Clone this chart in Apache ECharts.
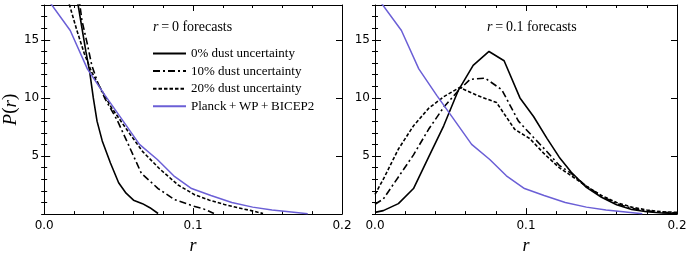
<!DOCTYPE html>
<html>
<head>
<meta charset="utf-8">
<script src="https://cdn.jsdelivr.net/npm/echarts@6/dist/echarts.min.js"></script>
<style>html,body{margin:0;padding:0;background:#fff}#c{width:692px;height:260px}</style>
</head>
<body>
<div id="c"></div>
<script>
// ---- data (r, P(r)) ----
var seriesNames = ['0% dust uncertainty', '10% dust uncertainty', '20% dust uncertainty', 'Planck\u2009+\u2009WP\u2009+\u2009BICEP2'];
var xTicks = [0, 0.1, 0.2];
var yTicks = [5, 10, 15];

var planck = [[0.004,18.2],[0.0175,15.8],[0.029,12.5],[0.041,10.2],[0.052,8.2],[0.064,6.0],[0.076,4.7],[0.087,3.3],[0.099,2.2],[0.112,1.6],[0.126,1.0],[0.14,0.6],[0.153,0.35],[0.166,0.18],[0.177,0.03]];

var left0 = [[0.0215,19],[0.025,16.3],[0.028,14.0],[0.0305,12.3],[0.033,10.0],[0.0355,8.0],[0.039,6.3],[0.0445,4.4],[0.05,2.7],[0.055,1.8],[0.06,1.2],[0.066,0.9],[0.071,0.55],[0.0765,0.05]];
var left10 = [[0.023,19],[0.0253,16.7],[0.0287,14.8],[0.032,12.8],[0.036,11.3],[0.041,9.9],[0.049,8.1],[0.0565,6.0],[0.0653,3.5],[0.0765,2.2],[0.0875,1.25],[0.1,0.7],[0.107,0.45],[0.114,0.05]];
var left20 = [[0.0155,19],[0.017,18],[0.022,15.8],[0.027,13.8],[0.032,12.2],[0.038,10.8],[0.045,9.2],[0.057,7.0],[0.066,5.4],[0.0775,3.9],[0.09,2.5],[0.101,1.67],[0.111,1.2],[0.121,0.83],[0.13,0.55],[0.139,0.3],[0.147,0.05]];

var right0 = [[0,0.15],[0.0055,0.3],[0.0155,0.9],[0.0255,2.2],[0.0355,4.9],[0.0455,7.6],[0.055,10.6],[0.065,12.8],[0.0755,14.0],[0.0855,13.2],[0.096,10.0],[0.105,8.4],[0.114,6.5],[0.122,4.9],[0.13,3.6],[0.14,2.3],[0.15,1.45],[0.16,0.8],[0.17,0.4],[0.18,0.2],[0.19,0.1],[0.2,0.05]];
var right10 = [[0,0.85],[0.0055,1.3],[0.0155,3.2],[0.0255,5.1],[0.0355,7.3],[0.0455,9.2],[0.055,10.6],[0.063,11.6],[0.073,11.7],[0.084,10.7],[0.095,8.0],[0.105,6.6],[0.113,5.5],[0.122,4.2],[0.13,3.5],[0.14,2.4],[0.15,1.55],[0.16,0.9],[0.17,0.5],[0.18,0.28],[0.19,0.15],[0.2,0.1]];
var right20 = [[0,1.7],[0.0055,3.0],[0.0155,5.6],[0.0255,7.6],[0.0355,9.1],[0.0455,10.1],[0.056,10.9],[0.068,10.2],[0.0805,9.6],[0.0925,7.3],[0.1025,6.5],[0.112,5.2],[0.122,4.0],[0.13,3.3],[0.14,2.4],[0.15,1.6],[0.16,1.0],[0.17,0.6],[0.18,0.35],[0.19,0.2],[0.2,0.15]];

// ---- styling ----
var BLUE = '#6b5fd6';
var SERIF = '"Liberation Serif","DejaVu Serif",serif';
var SANS = '"DejaVu Sans",sans-serif';
var styles = [
  {color:'#000', width:1.6, type:'solid'},
  {color:'#000', width:1.6, type:[7,3,2,3]},
  {color:'#000', width:1.6, type:[3.5,2]},
  {color:BLUE, width:1.5, type:'solid'}
];

var grids = [
  {left:42, top:5, width:300, height:215},
  {left:375, top:5, width:302, height:215}
];

var xAxes = [], yAxes = [];
grids.forEach(function(g, gi){
  ['bottom','top'].forEach(function(pos){
    xAxes.push({
      gridIndex:gi, type:'value', min:0, max:0.2, interval:0.1, position:pos,
      axisLine:{show:true, onZero:false, lineStyle:{color:'#000', width:1}},
      axisTick:{show:true, inside:true, length:6, lineStyle:{color:'#000'}},
      minorTick:{show:true, splitNumber:5, length:3, lineStyle:{color:'#000'}},
      splitLine:{show:false},
      axisLabel:{show:pos==='bottom', color:'#000', fontFamily:SANS, fontSize:12, margin:6,
        formatter:function(v){ return xTicks.indexOf(Math.round(v*10)/10) >= 0 ? v.toFixed(1) : ''; }},
      name: pos==='bottom' ? 'r' : '',
      nameLocation:'middle', nameGap:17,
      nameTextStyle:{fontFamily:SERIF, fontStyle:'italic', fontSize:18, color:'#000'}
    });
  });
  ['left','right'].forEach(function(pos){
    yAxes.push({
      gridIndex:gi, type:'value', min:0, max:18, interval:5, position:pos,
      axisLine:{show:true, onZero:false, lineStyle:{color:'#000', width:1}},
      axisTick:{show:true, inside:true, length:6, lineStyle:{color:'#000'}},
      splitLine:{show:false},
      axisLabel:{show:pos==='left', color:'#000', fontFamily:SANS, fontSize:12, margin:5,
        formatter:function(v){ return yTicks.indexOf(v) >= 0 ? String(v) : ''; }},
      name: (pos==='left' && gi===0) ? '{i|P}{n|(}{i|r}{n|)}' : '',
      nameLocation:'middle', nameGap:24,
      nameTextStyle:{rich:{
        i:{fontFamily:SERIF, fontStyle:'italic', fontSize:19, color:'#000'},
        n:{fontFamily:SERIF, fontSize:19, color:'#000'}
      }}
    });
  });
  ['left','right'].forEach(function(pos){
    yAxes.push({
      gridIndex:gi, type:'value', min:0, max:18, interval:1, position:pos,
      axisLine:{show:false}, axisLabel:{show:false}, splitLine:{show:false},
      axisTick:{show:true, inside:true, length:3, lineStyle:{color:'#000'}}
    });
  });
});

var panels = [[left0,left10,left20,planck],[right0,right10,right20,planck]];
var series = [];
panels.forEach(function(p, gi){
  p.forEach(function(d, si){
    series.push({
      type:'line', name:seriesNames[si], data:d,
      xAxisIndex:gi*2, yAxisIndex:gi*4,
      showSymbol:false, symbol:'none', clip:true, silent:true, animation:false,
      itemStyle:{color:styles[si].color},
      lineStyle:styles[si]
    });
  });
});

var titleRich = {
  i:{fontFamily:SERIF, fontStyle:'italic', fontWeight:'normal', fontSize:14, color:'#000'},
  n:{fontFamily:SERIF, fontWeight:'normal', fontSize:14, color:'#000'}
};

var chart = echarts.init(document.getElementById('c'), null, {renderer:'canvas'});
chart.setOption({
  animation:false,
  grid:grids,
  xAxis:xAxes,
  yAxis:yAxes,
  title:[
    {text:'{i|r}{n|\u2009=\u20090 forecasts}', left:148, top:15,
     textStyle:{fontWeight:'normal', rich:titleRich}},
    {text:'{i|r}{n|\u2009=\u20090.1 forecasts}', left:482, top:15,
     textStyle:{fontWeight:'normal', rich:titleRich}}
  ],
  legend:{
    data:seriesNames, orient:'vertical', left:147, top:42,
    itemWidth:33, itemHeight:12, itemGap:4.6, selectedMode:false,
    itemStyle:{opacity:0, borderWidth:0},
    textStyle:{fontFamily:SERIF, fontSize:13, color:'#000'}
  },
  series:series
});
</script>
</body>
</html>
